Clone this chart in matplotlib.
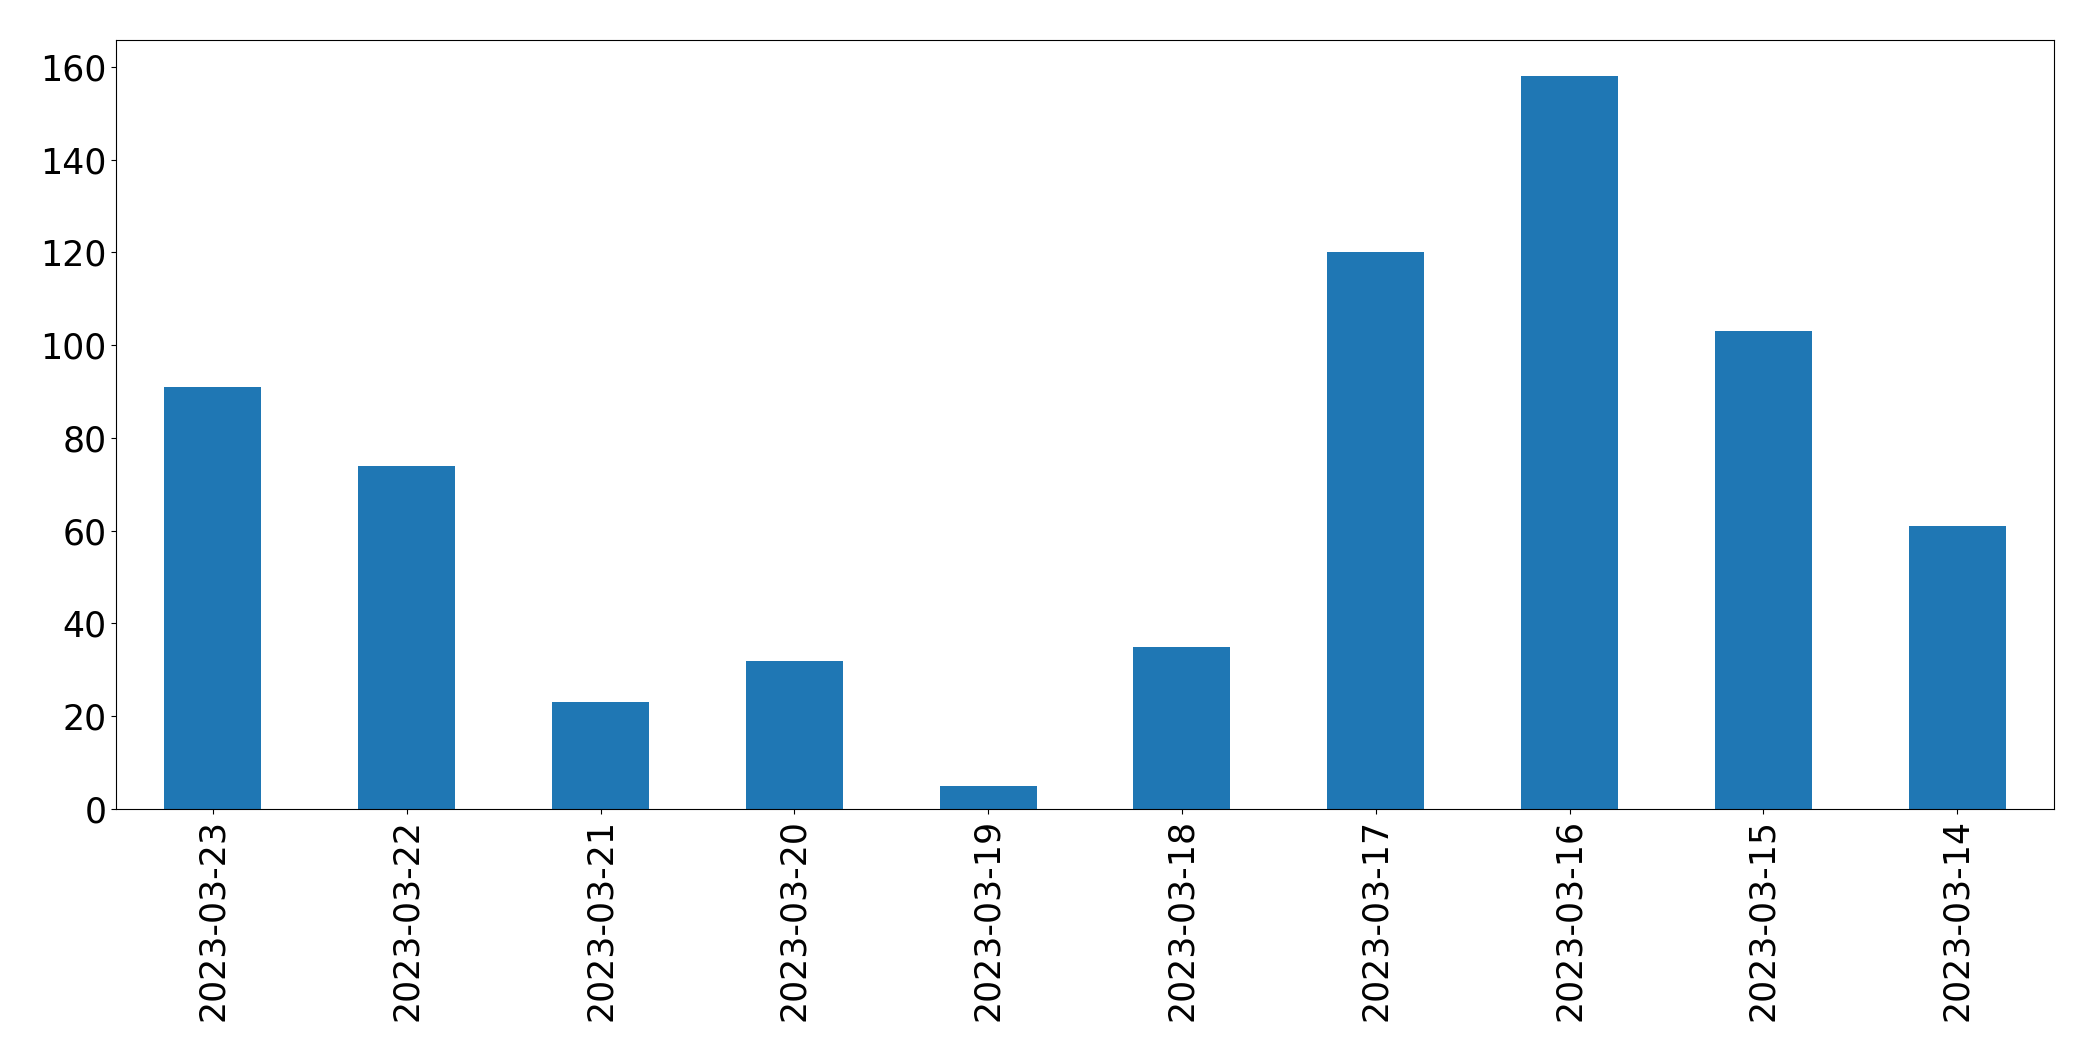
import matplotlib
matplotlib.use("Agg")
import matplotlib.pyplot as plt
import numpy as np

dates = ["2023-03-23", "2023-03-22", "2023-03-21", "2023-03-20", "2023-03-19",
         "2023-03-18", "2023-03-17", "2023-03-16", "2023-03-15", "2023-03-14"]
counts = [91, 74, 23, 32, 5, 35, 120, 158, 103, 61]

W, H = 2093, 1061
fig = plt.figure(figsize=(W / 100, H / 100), dpi=100)
ax = fig.add_axes([116 / W, 1 - 809 / H, (2054 - 116) / W, (809 - 39.5) / H])
x = np.arange(len(dates))
ax.bar(x, counts, width=0.5, color="#1f77b4")
ax.set_xlim(-0.5, len(dates) - 0.5)
ax.set_ylim(0, max(counts) * 1.05)
ax.set_xticks(x)
ax.set_xticklabels(dates, rotation=90)
ax.tick_params(labelsize=25)
fig.savefig("out.png", dpi=100)
